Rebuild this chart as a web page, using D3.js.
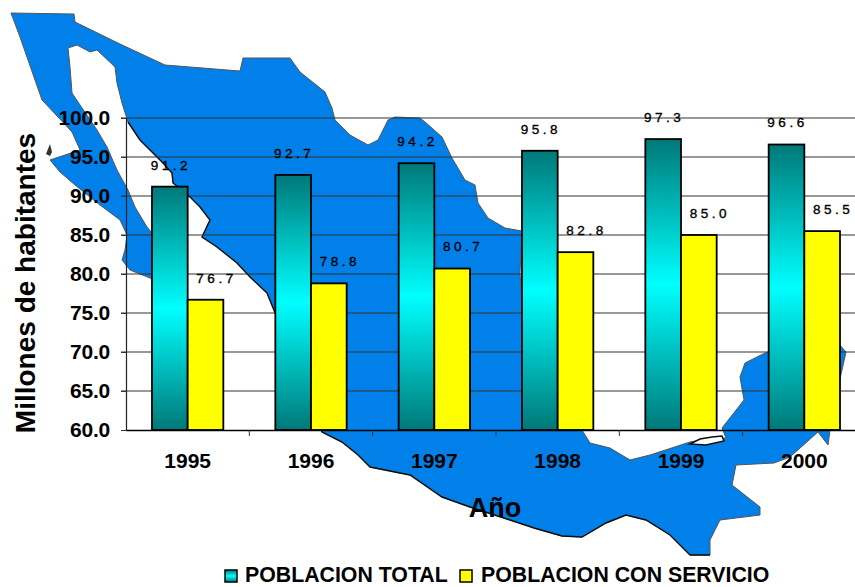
<!DOCTYPE html>
<html>
<head>
<meta charset="utf-8">
<script src="https://cdn.jsdelivr.net/npm/d3@7"></script>
<style>
    body { margin: 0; background: #fff; }
    svg { display: block; }
    text { font-family: "Liberation Sans", Arial, sans-serif; fill: #000; }
</style>
</head>
<body>
<div id="chart"></div>
<script>
const years = ["1995", "1996", "1997", "1998", "1999", "2000"];
const seriesNames = ["POBLACION TOTAL", "POBLACION CON SERVICIO"];
const poblacionTotal = [91.2, 92.7, 94.2, 95.8, 97.3, 96.6];
const poblacionServicio = [76.7, 78.8, 80.7, 82.8, 85.0, 85.5];
const yTicks = [60, 65, 70, 75, 80, 85, 90, 95, 100];

// background outline of the country, traced in page pixels
const mapOutline = [
    [11, 13], [74, 14], [75, 22], [120, 44], [165, 65], [240, 71], [243, 58], [290, 58], [300, 72], [325, 92],
    [332, 108], [335, 120], [350, 135], [368, 145], [378, 140], [388, 120], [395, 117], [420, 118], [425, 122],
    [442, 137], [452, 158], [465, 180], [475, 185], [478, 203], [488, 218], [505, 228], [522, 231], [520, 273],
    [522, 300], [530, 350], [560, 400], [582, 430], [590, 443], [610, 448], [630, 460], [650, 455], [690, 442],
    [702, 440], [726, 438], [722, 428], [744, 400], [740, 377], [745, 363], [765, 353], [800, 345], [838, 343],
    [846, 352], [842, 370], [836, 395], [830, 430], [828, 445], [818, 432], [790, 457], [774, 463], [736, 465],
    [732, 485], [760, 507], [760, 515], [720, 520], [710, 540], [710, 555], [690, 555], [670, 535], [646, 520],
    [626, 515], [606, 523], [582, 537], [562, 536], [534, 528], [510, 520], [470, 507], [442, 497], [410, 475],
    [370, 467], [358, 455], [342, 442], [322, 432], [300, 380], [278, 320], [267, 293], [250, 277], [237, 263],
    [217, 247], [202, 237], [210, 220], [200, 207], [190, 197], [173, 183], [172, 173], [163, 163], [140, 140],
    [128, 122], [122, 103], [117, 83], [115, 67], [97, 50], [90, 52], [77, 45], [68, 48], [70, 67], [72, 93],
    [80, 105], [97, 130], [107, 147], [117, 170], [128, 190], [135, 207], [147, 227], [152, 233], [175, 285],
    [173, 290], [150, 278], [130, 270], [122, 260], [125, 250], [127, 235], [120, 220], [100, 205], [75, 185],
    [60, 172], [50, 160], [80, 150], [72, 132], [58, 117], [42, 100], [35, 80], [20, 37]
];
const mapIsland = [[46, 154], [50, 144], [52, 152], [50, 156]];
const mapLagoon = [[690, 444], [700, 439], [712, 437], [722, 436], [724, 441], [706, 445]];

const canvasWidth = 855;
const canvasHeight = 587;

const svg = d3.select("#chart").append("svg")
    .attr("width", canvasWidth)
    .attr("height", canvasHeight);

const defs = svg.append("defs");
const gradient = defs.append("linearGradient")
    .attr("id", "tealGradient")
    .attr("x1", 0).attr("y1", 0).attr("x2", 0).attr("y2", 1);
gradient.append("stop").attr("offset", "0%").attr("stop-color", "#007878");
gradient.append("stop").attr("offset", "50%").attr("stop-color", "#00ffff");
gradient.append("stop").attr("offset", "100%").attr("stop-color", "#007878");

const blur = defs.append("filter").attr("id", "soft");
blur.append("feGaussianBlur").attr("stdDeviation", 0.6);

// the plot runs past the right side of the picture, as in the original
const xScale = d3.scaleBand().domain(years).range([126, 866]);
const yScale = d3.scaleLinear().domain([60, 100]).range([430, 118]);
const gap = 26;
const xSeries = d3.scaleBand().domain(seriesNames).range([gap, xScale.bandwidth() - gap]);

const line = d3.line();

// pacific side has the darker shore line, the land border only a soft one
const coastStart = mapOutline.findIndex(p => p[0] == 710 && p[1] == 555);
const coastEnd = mapOutline.findIndex(p => p[0] == 128 && p[1] == 122);

const map_g = svg.append("g").attr("filter", "url(#soft)");
map_g.append("path")
    .attr("d", line(mapOutline) + "Z")
    .attr("fill", "#0080e8")
    .attr("stroke", "#555")
    .attr("stroke-width", 1);
map_g.append("path")
    .attr("d", line(mapOutline.slice(coastStart, coastEnd + 1)))
    .attr("fill", "none")
    .attr("stroke", "#111")
    .attr("stroke-width", 1.4);
map_g.append("path")
    .attr("d", line(mapIsland) + "Z")
    .attr("fill", "#333");
map_g.append("path")
    .attr("d", line(mapLagoon) + "Z")
    .attr("fill", "#fff")
    .attr("stroke", "#111")
    .attr("stroke-width", 1.5);

// grid lines
svg.append("g")
    .selectAll("line")
    .data(yTicks.slice(1))
    .enter()
    .append("line")
    .attr("x1", 121)
    .attr("x2", canvasWidth)
    .attr("y1", d => yScale(d))
    .attr("y2", d => yScale(d))
    .attr("stroke", "#333")
    .attr("stroke-width", 1.2);

// y axis
const yAxis = svg.append("g")
    .attr("transform", "translate(126,0)")
    .call(d3.axisLeft(yScale).tickValues(yTicks).tickFormat(d3.format(".1f")).tickSize(5).tickPadding(11));
yAxis.selectAll("text")
    .attr("font-size", "21px")
    .attr("font-weight", "bold")
    .attr("letter-spacing", "-0.2px")
    .attr("font-family", "Liberation Sans")
    .style("fill", "#000");
yAxis.selectAll("line").attr("stroke", "#333");
yAxis.select(".domain").attr("stroke", "#222").attr("stroke-width", 1.2);

// bars
const barData = [];
years.forEach((year, i) => {
    barData.push({ year: year, name: seriesNames[0], value: poblacionTotal[i], dx: 0 });
    barData.push({ year: year, name: seriesNames[1], value: poblacionServicio[i], dx: 10 });
});

svg.selectAll(".bar")
    .data(barData)
    .enter()
    .append("rect")
    .attr("class", "bar")
    .attr("x", d => xScale(d.year) + xSeries(d.name))
    .attr("y", d => yScale(d.value))
    .attr("width", xSeries.bandwidth())
    .attr("height", d => yScale(60) - yScale(d.value))
    .attr("fill", d => d.name == seriesNames[0] ? "url(#tealGradient)" : "#ffff00")
    .attr("stroke", "#000")
    .attr("stroke-width", 1.8);

svg.selectAll(".bar-label")
    .data(barData)
    .enter()
    .append("text")
    .attr("class", "bar-label")
    .attr("x", d => xScale(d.year) + xSeries(d.name) + xSeries.bandwidth() / 2 + d.dx + 1)
    .attr("y", d => yScale(d.value) - 22)
    .attr("dy", "0.36em")
    .attr("text-anchor", "middle")
    .attr("font-size", "13.5px")
    .attr("letter-spacing", "3.5px")
    .attr("stroke", "#000")
    .attr("stroke-width", 0.35)
    .text(d => d.value.toFixed(1));

// x axis, the ticks sit between the years
const xAxis = svg.append("g")
    .attr("transform", "translate(0,430)")
    .call(d3.axisBottom(xScale).tickSize(0).tickPadding(23));
xAxis.selectAll("text")
    .attr("font-size", "21px")
    .attr("font-weight", "bold")
    .attr("font-family", "Liberation Sans")
    .style("fill", "#000");
xAxis.select(".domain").attr("stroke", "#000").attr("stroke-width", 1.6);
xAxis.selectAll(".boundary")
    .data(years.slice(1))
    .enter()
    .append("line")
    .attr("class", "boundary")
    .attr("x1", d => xScale(d))
    .attr("x2", d => xScale(d))
    .attr("y1", 0)
    .attr("y2", 6)
    .attr("stroke", "#333");

// axis titles
svg.append("text")
    .attr("x", 495)
    .attr("y", 517)
    .attr("text-anchor", "middle")
    .attr("font-size", "27px")
    .attr("font-weight", "bold")
    .text("Año");

svg.append("text")
    .attr("transform", "translate(35,283) rotate(-90)")
    .attr("text-anchor", "middle")
    .attr("font-size", "28px")
    .attr("font-weight", "bold")
    .text("Millones de habitantes");

// legend
const legendX = [225, 460];
const legendTextX = [245, 481];
const legend = svg.selectAll(".legend")
    .data(seriesNames)
    .enter()
    .append("g")
    .attr("class", "legend");
legend.append("rect")
    .attr("x", (d, i) => legendX[i])
    .attr("y", 570)
    .attr("width", 12)
    .attr("height", 12)
    .attr("fill", (d, i) => i == 0 ? "url(#tealGradient)" : "#ffff00")
    .attr("stroke", "#000")
    .attr("stroke-width", 1.5);
legend.append("text")
    .attr("x", (d, i) => legendTextX[i])
    .attr("y", 582)
    .attr("font-size", "21.3px")
    .attr("font-weight", "bold")
    .text(d => d);
</script>
</body>
</html>
